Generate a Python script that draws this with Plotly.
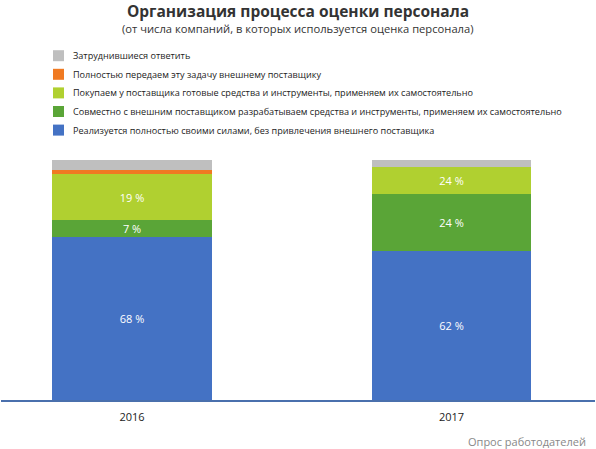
#stacked bars: how companies organise personnel assessment, 2016 vs 2017
import plotly.graph_objects as go

years = ['2016', '2017']

#series names (bottom of the stack first)
names = [
    'Реализуется полностью своими силами, без привлечения внешнего поставщика',
    'Совместно с внешним поставщиком разрабатываем средства и инструменты, применяем их самостоятельно',
    'Покупаем у поставщика готовые средства и инструменты, применяем их самостоятельно',
    'Полностью передаем эту задачу внешнему поставщику',
    'Затруднившиеся ответить',
]

#values, %
own_forces = [68, 62]
joint_dev = [7, 24]
bought_tools = [19, 11]
outsourced = [2, 0]
no_answer = [4, 3]

#labels as printed on the bars
own_forces_txt = ['68 %', '62 %']
joint_dev_txt = ['7 %', '24 %']
bought_tools_txt = ['19 %', '24 %']
outsourced_txt = ['', '']
no_answer_txt = ['', '']

colors = ['#4472c4', '#5aa537', '#b0d030', '#f07a22', '#bfbfbf']

series = [own_forces, joint_dev, bought_tools, outsourced, no_answer]
texts = [own_forces_txt, joint_dev_txt, bought_tools_txt, outsourced_txt, no_answer_txt]

W, H = 596, 449
ML, MR, MT, MB = 1, 1, 160, 49
pw = W - ML - MR
ph = H - MT - MB

def px_x(p):
    return (p - ML) / pw

def px_y(p):
    return (H - MB - p) / ph

fig = go.Figure()

for i, vals in enumerate(series):
    fig.add_trace(go.Bar(x=years, y=vals, name=names[i], marker_color=colors[i],
                         marker_line_width=0, width=0.5, showlegend=False,
                         text=texts[i], textposition='inside', insidetextanchor='middle',
                         textfont=dict(color='white', size=11), textangle=0))

#legend drawn by hand (grey on top, blue at the bottom)
for k, i in enumerate(range(len(names) - 1, -1, -1)):
    yc = 55.7 + 18.6 * k
    fig.add_shape(type='rect', xref='paper', yref='paper',
                  x0=px_x(53), x1=px_x(64), y0=px_y(yc + 5.5), y1=px_y(yc - 5.5),
                  fillcolor=colors[i], line_width=0)
    fig.add_annotation(text=names[i], xref='paper', yref='paper', x=px_x(71), y=px_y(yc),
                       xanchor='left', yanchor='middle', showarrow=False,
                       font=dict(size=9.1, color='#222222'))

fig.update_layout(
    width=W, height=H,
    barmode='stack',
    plot_bgcolor='white', paper_bgcolor='white',
    font=dict(family='Open Sans', size=11, color='#222222'),
    margin=dict(l=ML, r=MR, t=MT, b=MB, pad=0),
    title=dict(text='<b>Организация процесса оценки персонала</b>',
               x=0.5, xanchor='center', y=1 - 12 / H, yanchor='middle',
               font=dict(size=15.5, color='#333333')),
    uniformtext=dict(minsize=11, mode='show'),
)

fig.add_annotation(text='(от числа компаний, в которых используется оценка персонала)',
                   xref='paper', yref='paper', x=0.5, y=px_y(28), xanchor='center', yanchor='middle',
                   showarrow=False, font=dict(size=11.2, color='#333333'))
fig.add_annotation(text='Опрос работодателей',
                   xref='paper', yref='paper', x=px_x(588), y=px_y(441), xanchor='right', yanchor='middle',
                   showarrow=False, font=dict(size=11, color='#888888'))

fig.update_xaxes(range=[-0.41, 1.449], showline=True, linecolor='#4a70ad', linewidth=2,
                 ticks='', showgrid=False, ticklabelstandoff=6,
                 tickfont=dict(size=11, color='#222222'))
fig.update_yaxes(range=[0, 100], visible=False, showgrid=False)

#page has a default 8px body margin; drop it so the chart sits at the window corner
fig.write_html("out.html", config={'displayModeBar': False},
               post_script="document.body.style.margin='0px';")
